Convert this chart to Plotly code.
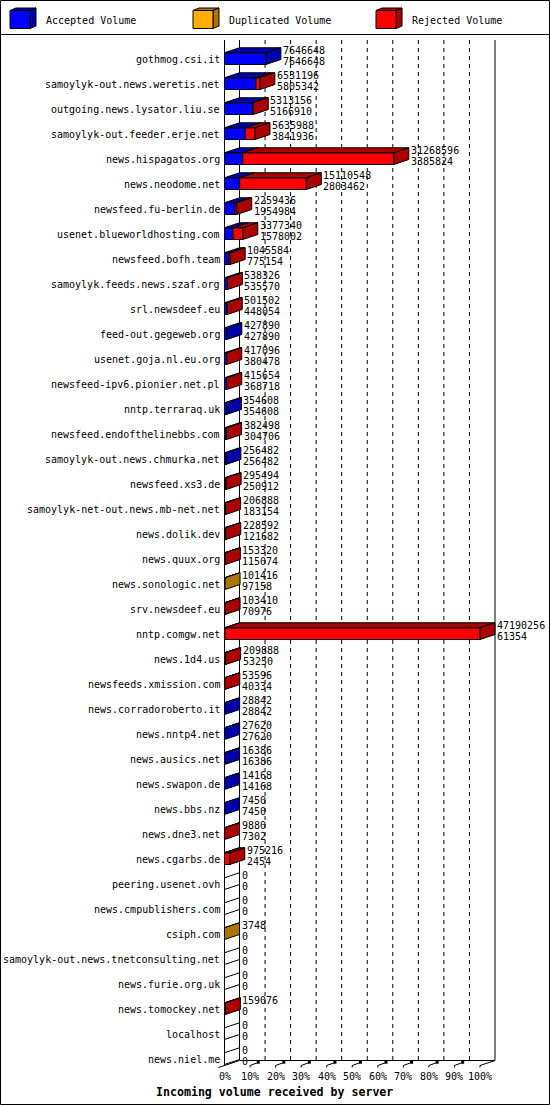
import plotly.graph_objects as go

# ---------------- data ----------------
hosts = [
    "gothmog.csi.it", "samoylyk-out.news.weretis.net", "outgoing.news.lysator.liu.se",
    "samoylyk-out.feeder.erje.net", "news.hispagatos.org", "news.neodome.net",
    "newsfeed.fu-berlin.de", "usenet.blueworldhosting.com", "newsfeed.bofh.team",
    "samoylyk.feeds.news.szaf.org", "srl.newsdeef.eu", "feed-out.gegeweb.org",
    "usenet.goja.nl.eu.org", "newsfeed-ipv6.pionier.net.pl", "nntp.terraraq.uk",
    "newsfeed.endofthelinebbs.com", "samoylyk-out.news.chmurka.net", "newsfeed.xs3.de",
    "samoylyk-net-out.news.mb-net.net", "news.dolik.dev", "news.quux.org",
    "news.sonologic.net", "srv.newsdeef.eu", "nntp.comgw.net", "news.1d4.us",
    "newsfeeds.xmission.com", "news.corradoroberto.it", "news.nntp4.net",
    "news.ausics.net", "news.swapon.de", "news.bbs.nz", "news.dne3.net",
    "news.cgarbs.de", "peering.usenet.ovh", "news.cmpublishers.com", "csiph.com",
    "samoylyk-out.news.tnetconsulting.net", "news.furie.org.uk", "news.tomockey.net",
    "localhost", "news.niel.me",
]
accepted = [
    7646648, 5805342, 5166910, 3841936, 3385824, 2803462, 1954984, 1578002, 775154,
    535570, 448054, 427890, 380478, 368718, 354608, 304706, 256482, 250912, 183154,
    121682, 115074, 97158, 70976, 61354, 53250, 40334, 28842, 27620, 16386, 14168,
    7450, 7302, 2454, 0, 0, 0, 0, 0, 0, 0, 0,
]
duplicated = [
    0, 0, 0, 0, 0, 0, 0, 0, 0, 0, 0, 0, 0, 0, 0, 0, 0, 0, 0, 0, 0,
    4258, 0, 0, 0, 0, 0, 0, 0, 0, 0, 0, 0, 0, 0, 3748, 0, 0, 0, 0, 0,
]
rejected = [
    0, 725854, 146246, 1794052, 27882772, 12307086, 304452, 1799338, 270430,
    2756, 53448, 0, 36618, 46936, 0, 77792, 0, 44582, 23734,
    106910, 38246, 0, 32434, 47128902, 156638, 13262, 0, 0, 0, 0,
    0, 2578, 972762, 0, 0, 0, 0, 0, 159076, 0, 0,
]
series_names = ["Accepted Volume", "Duplicated Volume", "Rejected Volume"]
series_front = ["#0000FF", "#FFAF00", "#FF0000"]
series_dark = ["#0000AA", "#AA7500", "#AA0000"]
tick_values = [0, 10, 20, 30, 40, 50, 60, 70, 80, 90, 100]
tick_labels = ["0%", "10%", "20%", "30%", "40%", "50%", "60%", "70%", "80%", "90%", "100%"]
title_text = "Incoming volume received by server"

# ---------------- geometry ----------------
W, H = 550, 1105
X0_PX = 224.5        # pixel of 0 %
PX_PER_PCT = 2.555   # pixels per percent
ROW0_PX = 59.0       # pixel centre of first row
ROW_PX = 25.0        # pixels per row
DX = 15 / PX_PER_PCT  # depth shift, x (percent units)
DY = 5 / ROW_PX       # depth shift, y (row units, upward)
HT, HB = 6.25 / ROW_PX, 5.5 / ROW_PX

x_range = [-X0_PX / PX_PER_PCT, (W - X0_PX) / PX_PER_PCT]
y_range = [(H - ROW0_PX) / ROW_PX, -ROW0_PX / ROW_PX]
TOP_ROW = (40 - ROW0_PX) / ROW_PX
FLOOR_FRONT = (1065.5 - ROW0_PX) / ROW_PX
FLOOR_BACK = FLOOR_FRONT - DY

totals = [a + d + r for a, d, r in zip(accepted, duplicated, rejected)]
vmax = max(totals)
mono = "DejaVu Sans Mono"

fig = go.Figure()


def add_poly(xs, ys, fill, width=1):
    fig.add_trace(go.Scatter(x=xs, y=ys, mode="lines", fill="toself", fillcolor=fill,
                             line=dict(color="black", width=width), hoverinfo="skip",
                             showlegend=False))


def add_lines(xs, ys, dash="solid", width=1):
    fig.add_trace(go.Scatter(x=xs, y=ys, mode="lines", line=dict(color="black", width=width, dash=dash),
                             hoverinfo="skip", showlegend=False))


# back-wall dashed grid lines
gx, gy = [], []
for t in tick_values[1:-1]:
    gx += [t + DX, t + DX, None]
    gy += [TOP_ROW, FLOOR_BACK, None]
add_lines(gx, gy, dash="4px,4px")

# walls & floor
add_lines([0, 0, None, DX, DX, None, 100 + DX, 100 + DX],
          [TOP_ROW, FLOOR_FRONT, None, TOP_ROW, FLOOR_BACK, None, TOP_ROW, FLOOR_BACK])
add_lines([-6 / PX_PER_PCT, DX, 100 + DX, 100],
          [FLOOR_FRONT + 2 / ROW_PX, FLOOR_BACK, FLOOR_BACK, FLOOR_FRONT])
tx, ty = [], []
for t in tick_values[1:-1]:
    tx += [t, t, t + DX * 0.5, None]
    ty += [FLOOR_FRONT + 2 / ROW_PX, FLOOR_FRONT, FLOOR_FRONT - DY * 0.55, None]
tx += [100, 100]
ty += [FLOOR_FRONT + 2 / ROW_PX, FLOOR_FRONT]
add_lines(tx, ty)
fig.add_trace(go.Scatter(x=[t + DX * 0.55 for t in tick_values[1:-1]],
                         y=[FLOOR_FRONT - DY * 0.65] * 9, mode="markers",
                         marker=dict(symbol="square", size=3, color="black"),
                         hoverinfo="skip", showlegend=False))

# bars
for i, host in enumerate(hosts):
    vals = [accepted[i], duplicated[i], rejected[i]]
    yt, yb = i - HT, i + HB
    x0 = 0.0
    last = None
    for k, v in enumerate(vals):
        if v <= 0:
            continue
        x1 = x0 + v / vmax * 100
        add_poly([x0, x1, x1, x0, x0], [yt, yt, yb, yb, yt], series_front[k])
        add_poly([x0, x1, x1 + DX, x0 + DX, x0], [yt, yt, yt - DY, yt - DY, yt], series_dark[k])
        x0 = x1
        last = k
    side = series_dark[last] if last is not None else "white"
    add_poly([x0, x0 + DX, x0 + DX, x0, x0], [yt, yt - DY, yb - DY, yb, yt], side)

annotations = []
for i, host in enumerate(hosts):
    annotations.append(dict(x=-2.2 / PX_PER_PCT, y=i, xref="x", yref="y", text=host,
                            xanchor="right", yanchor="middle", showarrow=False,
                            font=dict(family=mono, size=10, color="black")))
    xe = totals[i] / vmax * 100 + DX
    annotations.append(dict(x=xe, y=i - 9 / ROW_PX, xref="x", yref="y", text=str(totals[i]),
                            xanchor="left", yanchor="middle", showarrow=False,
                            font=dict(family=mono, size=10, color="black")))
    annotations.append(dict(x=xe, y=i + 2 / ROW_PX, xref="x", yref="y", text=str(accepted[i]),
                            xanchor="left", yanchor="middle", showarrow=False,
                            font=dict(family=mono, size=10, color="black")))
for t, lab in zip(tick_values, tick_labels):
    annotations.append(dict(x=t, y=FLOOR_FRONT + 10.5 / ROW_PX, xref="x", yref="y", text=lab,
                            xanchor="center", yanchor="middle", showarrow=False,
                            font=dict(family=mono, size=10, color="black")))
annotations.append(dict(x=274 / W, y=1 - 1092 / H, xref="paper", yref="paper", text="<b>" + title_text + "</b>",
                        xanchor="center", yanchor="middle", showarrow=False,
                        font=dict(family=mono, size=11.6, color="black")))

# legend (paper coords, pixel-positioned)
shapes = []


def px(x):
    return x / W


def py(y):
    return 1 - y / H


legend_x = [10, 193, 376]
for k, name in enumerate(series_names):
    bx = legend_x[k]
    fx0, fx1, fy0, fy1 = bx, bx + 20, 10.5, 28.5
    ddx, ddy = 6, 2.5
    shapes.append(dict(type="path", xref="paper", yref="paper",
                       path=f"M{px(fx0)},{py(fy0)} L{px(fx0+ddx)},{py(fy0-ddy)} L{px(fx1+ddx)},{py(fy0-ddy)} L{px(fx1)},{py(fy0)} Z",
                       fillcolor=series_dark[k], line=dict(color="black", width=1)))
    shapes.append(dict(type="path", xref="paper", yref="paper",
                       path=f"M{px(fx1)},{py(fy0)} L{px(fx1+ddx)},{py(fy0-ddy)} L{px(fx1+ddx)},{py(fy1-ddy)} L{px(fx1)},{py(fy1)} Z",
                       fillcolor=series_dark[k], line=dict(color="black", width=1)))
    shapes.append(dict(type="rect", xref="paper", yref="paper", x0=px(fx0), x1=px(fx1), y0=py(fy0), y1=py(fy1),
                       fillcolor=series_front[k], line=dict(color="black", width=1)))
    annotations.append(dict(x=px(bx + 34), y=py(20), xref="paper", yref="paper", text=name,
                            xanchor="left", yanchor="middle", showarrow=False,
                            font=dict(family=mono, size=10, color="black")))

shapes.append(dict(type="line", xref="paper", yref="paper", x0=0, x1=1, y0=py(34.5), y1=py(34.5),
                   line=dict(color="black", width=1)))
shapes.append(dict(type="rect", xref="paper", yref="paper", x0=px(0.5), x1=px(549.5), y0=py(0.5), y1=py(1104.5),
                   line=dict(color="black", width=1)))

fig.update_layout(
    width=W, height=H, margin=dict(l=0, r=0, t=0, b=0),
    paper_bgcolor="white", plot_bgcolor="white",
    xaxis=dict(range=x_range, visible=False, fixedrange=True, domain=[0, 1]),
    yaxis=dict(range=y_range, visible=False, fixedrange=True, domain=[0, 1]),
    annotations=annotations, shapes=shapes, showlegend=False,
)
fig.write_html("out.html", config={"displayModeBar": False},
               post_script="document.body.style.margin='0';document.body.style.overflow='hidden';")
